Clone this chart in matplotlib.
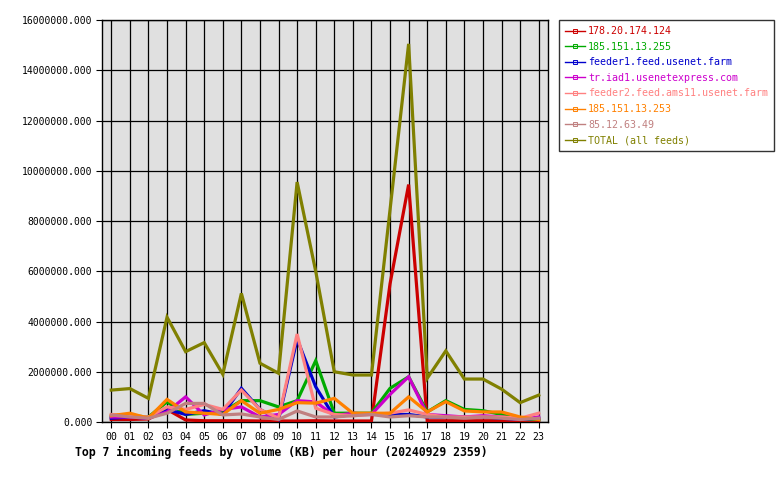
'''
Top 7 incoming feeds by volume per hour
'''
import matplotlib
matplotlib.use("Agg")
import matplotlib.pyplot as plt
from matplotlib.lines import Line2D

hours = ["%02d" % h for h in range(24)]

feed_names = [
    "178.20.174.124",
    "185.151.13.255",
    "feeder1.feed.usenet.farm",
    "tr.iad1.usenetexpress.com",
    "feeder2.feed.ams11.usenet.farm",
    "185.151.13.253",
    "85.12.63.49",
    "TOTAL (all feeds)",
]
feed_colors = ["#cc0000", "#00aa00", "#0000cc", "#cc00cc",
               "#ff8080", "#ff8000", "#c08080", "#808000"]

# values in KB
red = [0.10e6, 0.10e6, 0.12e6, 0.50e6, 0.08e6, 0.05e6, 0.05e6, 0.05e6,
       0.04e6, 0.04e6, 0.04e6, 0.05e6, 0.04e6, 0.04e6, 0.04e6, 5.5e6,
       9.45e6, 0.05e6, 0.05e6, 0.05e6, 0.05e6, 0.05e6, 0.05e6, 0.05e6]
green = [0.20e6, 0.25e6, 0.20e6, 0.80e6, 0.30e6, 0.35e6, 0.40e6, 0.85e6,
         0.85e6, 0.60e6, 0.85e6, 2.44e6, 0.35e6, 0.35e6, 0.35e6, 1.34e6,
         1.80e6, 0.40e6, 0.85e6, 0.50e6, 0.45e6, 0.30e6, 0.10e6, 0.10e6]
blue = [0.15e6, 0.20e6, 0.15e6, 0.50e6, 0.30e6, 0.45e6, 0.30e6, 1.34e6,
        0.50e6, 0.10e6, 3.30e6, 1.40e6, 0.20e6, 0.30e6, 0.30e6, 0.30e6,
        0.30e6, 0.20e6, 0.20e6, 0.20e6, 0.20e6, 0.15e6, 0.10e6, 0.15e6]
magenta = [0.20e6, 0.20e6, 0.15e6, 0.40e6, 1.00e6, 0.28e6, 0.50e6, 0.60e6,
           0.20e6, 0.30e6, 0.85e6, 0.80e6, 0.25e6, 0.35e6, 0.30e6, 1.10e6,
           1.80e6, 0.30e6, 0.25e6, 0.20e6, 0.25e6, 0.20e6, 0.10e6, 0.20e6]
pink = [0.30e6, 0.25e6, 0.20e6, 0.60e6, 0.50e6, 0.70e6, 0.50e6, 1.27e6,
        0.50e6, 0.15e6, 3.50e6, 0.55e6, 0.30e6, 0.25e6, 0.30e6, 0.35e6,
        0.48e6, 0.30e6, 0.20e6, 0.20e6, 0.20e6, 0.20e6, 0.15e6, 0.35e6]
orange = [0.25e6, 0.35e6, 0.15e6, 0.90e6, 0.40e6, 0.35e6, 0.30e6, 0.85e6,
          0.35e6, 0.50e6, 0.77e6, 0.75e6, 0.94e6, 0.35e6, 0.35e6, 0.35e6,
          1.00e6, 0.40e6, 0.81e6, 0.44e6, 0.40e6, 0.40e6, 0.20e6, 0.10e6]
rosy = [0.28e6, 0.20e6, 0.15e6, 0.35e6, 0.74e6, 0.74e6, 0.28e6, 0.32e6,
        0.20e6, 0.10e6, 0.44e6, 0.20e6, 0.20e6, 0.25e6, 0.30e6, 0.20e6,
        0.25e6, 0.20e6, 0.20e6, 0.15e6, 0.20e6, 0.15e6, 0.10e6, 0.15e6]
total = [1.27e6, 1.33e6, 0.94e6, 4.17e6, 2.80e6, 3.16e6, 1.90e6, 5.12e6,
         2.34e6, 1.94e6, 9.55e6, 6.00e6, 2.00e6, 1.87e6, 1.87e6, 8.45e6,
         15.05e6, 1.74e6, 2.83e6, 1.71e6, 1.71e6, 1.31e6, 0.77e6, 1.07e6]

series = [red, green, blue, magenta, pink, orange, rosy, total]

plt.rcParams["font.family"] = ["DejaVu Sans Mono"]

fig = plt.figure(figsize=(7.8, 4.8), dpi=100)
ax = fig.add_axes([102 / 780, 58 / 480, 446 / 780, 402 / 480])
ax.set_facecolor("#e0e0e0")

x = list(range(len(hours)))
for vals, col in zip(series, feed_colors):
    ax.plot(x, vals, color=col, linewidth=2.3, solid_joinstyle="miter", zorder=3)

ax.set_xlim(-0.5, 23.5)
ax.set_ylim(0, 16e6)
ax.set_xticks(x)
ax.set_xticklabels(hours, fontsize=7.1)
ax.set_yticks([i * 2e6 for i in range(9)])
ax.set_yticklabels(["%.3f" % (i * 2e6) for i in range(9)], fontsize=7.0)
ax.tick_params(direction="out", length=4, width=0.8, pad=3, colors="black")
ax.grid(True, color="black", linewidth=0.9, zorder=1)
ax.set_axisbelow(True)
for sp in ax.spines.values():
    sp.set_color("black")
    sp.set_linewidth(1)

handles = [Line2D([0], [0], color=c, linewidth=1, marker="s", markersize=3,
                  markerfacecolor="none", markeredgewidth=0.7)
           for c in feed_colors]
leg = fig.legend(handles, feed_names, loc="upper left",
                 bbox_to_anchor=(559 / 780, 460 / 480), fontsize=7.2,
                 frameon=True, fancybox=False, handlelength=2.0,
                 handletextpad=0.3, labelspacing=0.56, borderpad=0.6,
                 numpoints=1, borderaxespad=0)
leg.get_frame().set_edgecolor("black")
leg.get_frame().set_linewidth(1)
for t, c in zip(leg.get_texts(), feed_colors):
    t.set_color(c)

fig.text(75 / 780, 1 - 452 / 480,
         "Top 7 incoming feeds by volume (KB) per hour (20240929 2359)",
         fontsize=8.3, fontweight="bold", va="center", ha="left")

fig.savefig("out.png", dpi=100)
